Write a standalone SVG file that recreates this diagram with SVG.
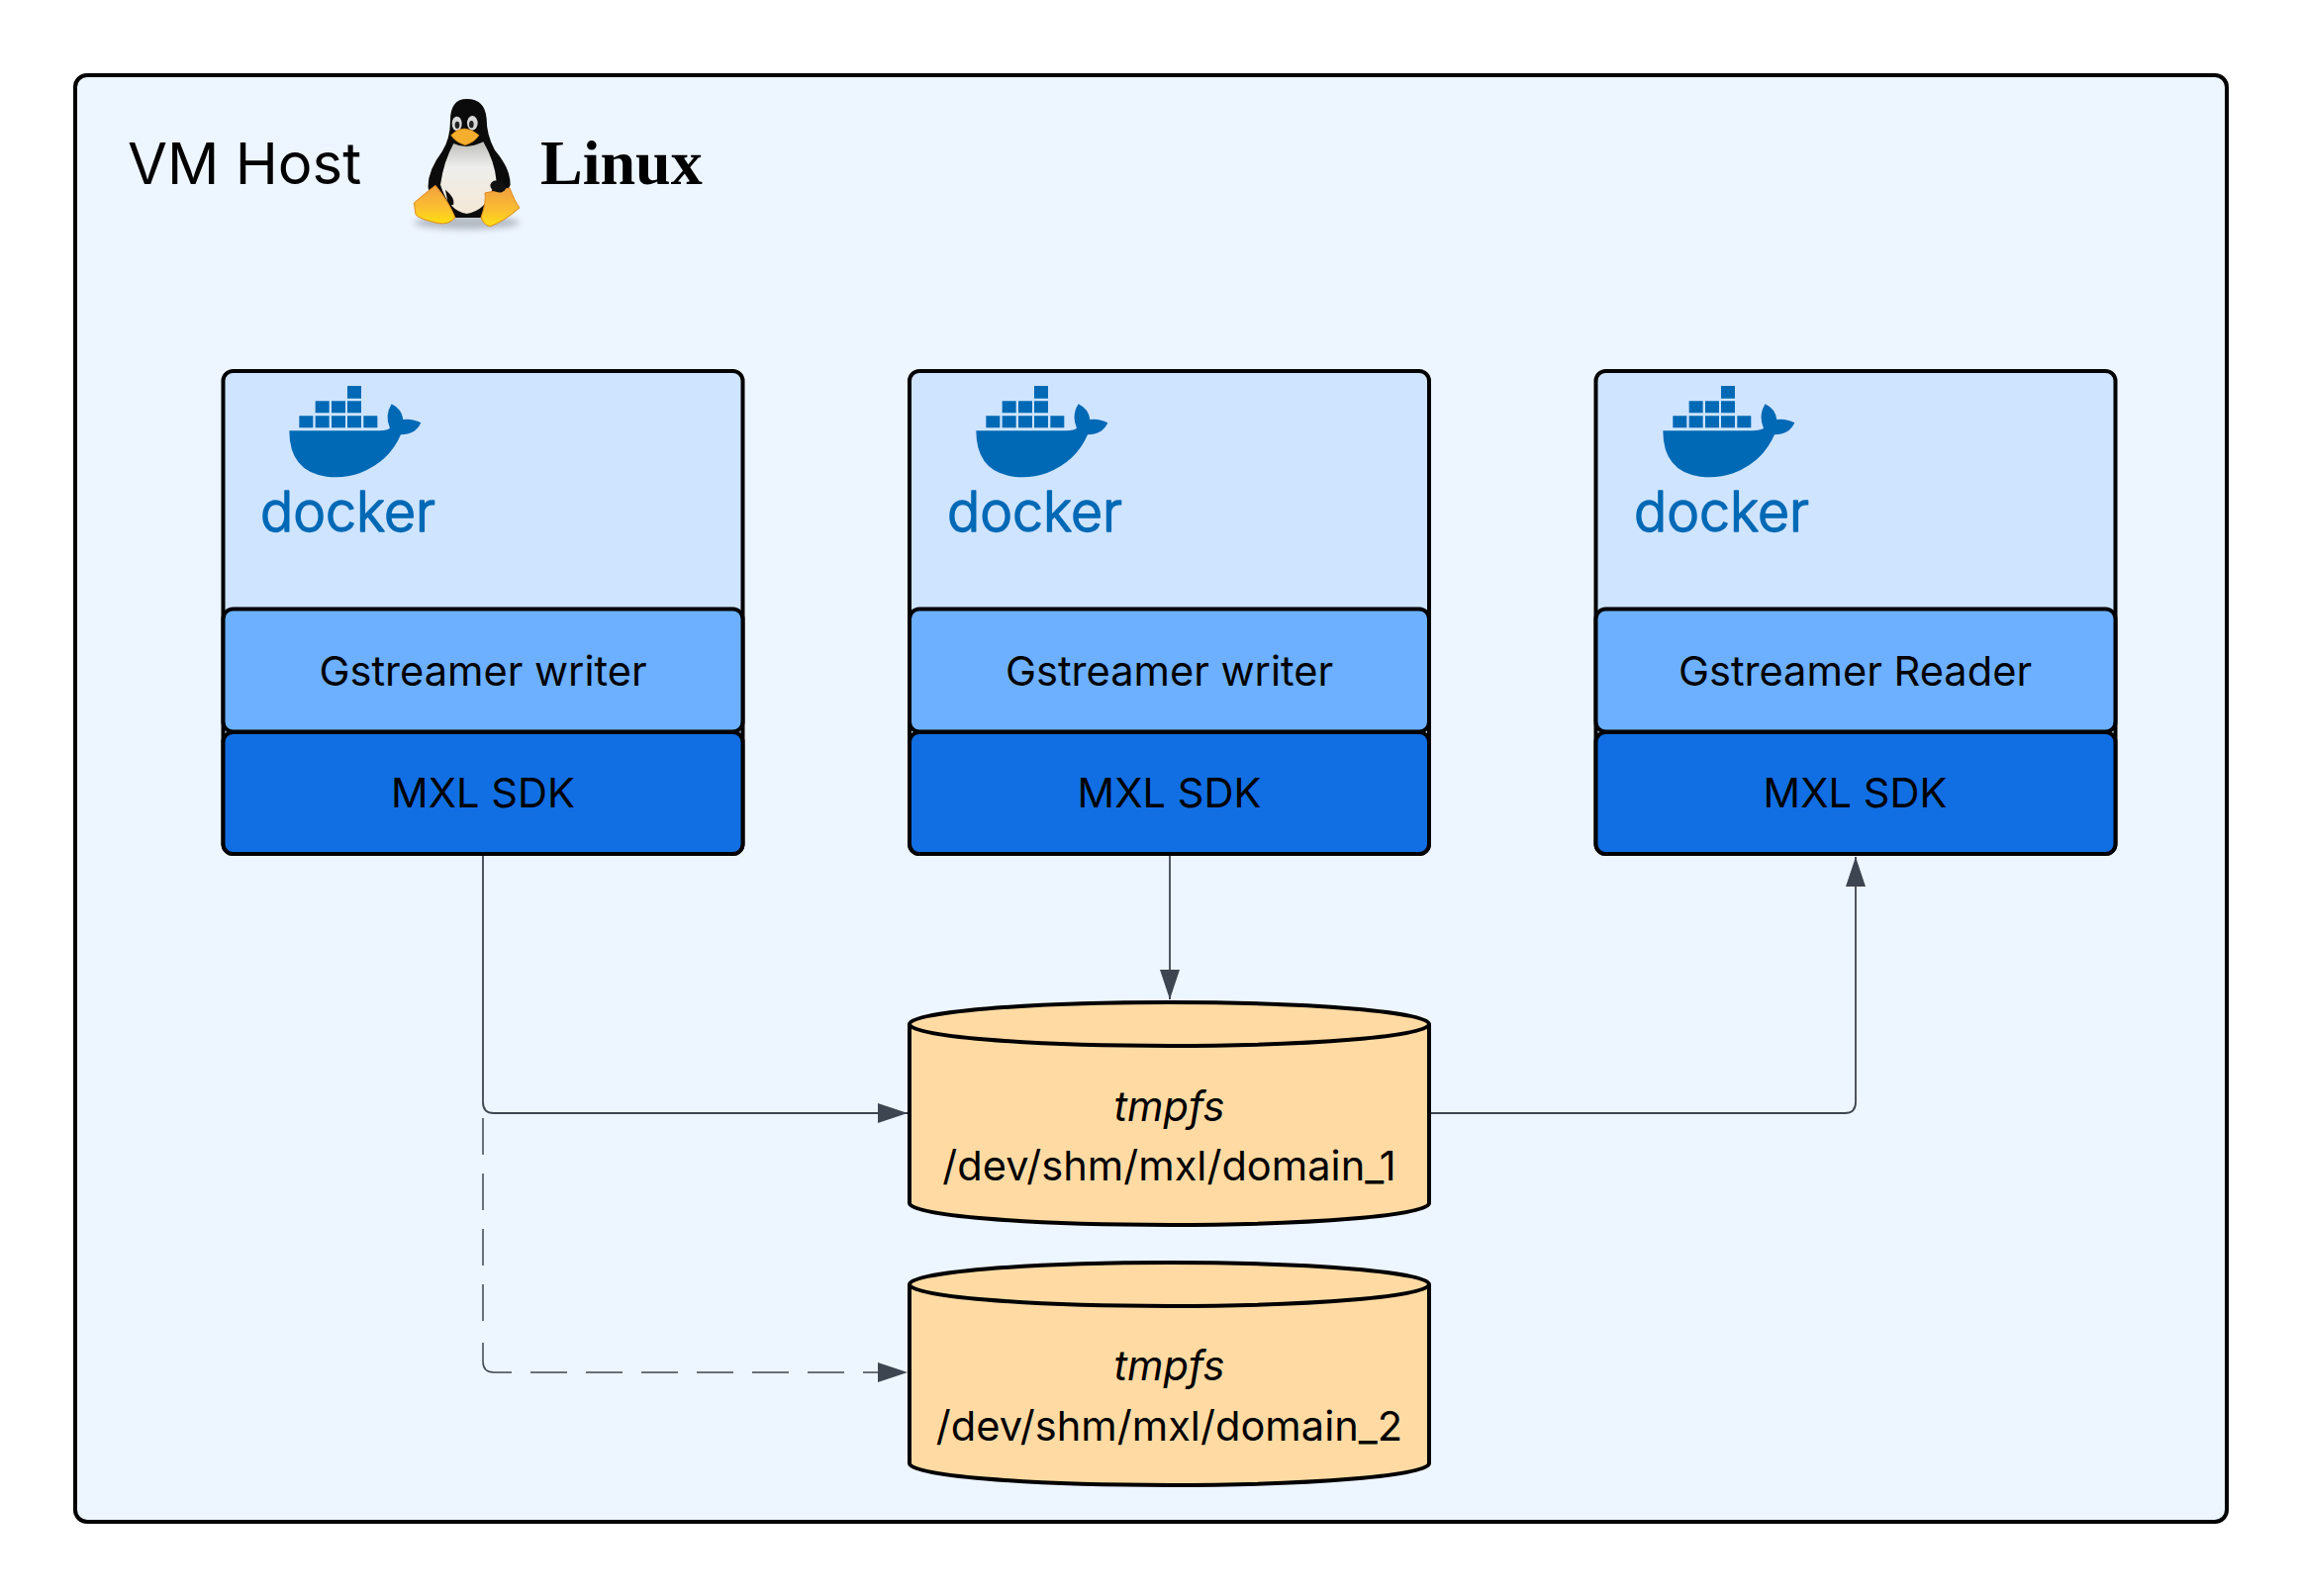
<svg xmlns="http://www.w3.org/2000/svg" width="2325" height="1613" viewBox="0 0 2325 1613">
<style>
text{font-family:"Inter","Liberation Sans",sans-serif;fill:#000}
.t{font-size:41.6px;text-anchor:middle}
.i{font-style:italic}
.box{stroke:#000;stroke-width:4}
.c{fill:#CFE4FF}.g{fill:#6CB0FF}.m{fill:#116FE3}.cy{fill:#FFDBA3;stroke:#000;stroke-width:4}
.dk{font-size:56px;font-weight:300;fill:#0069B5;stroke:#0069B5;stroke-width:1.6;stroke-linejoin:round}
.ln{fill:none;stroke:#3D4551;stroke-width:1.8}
.dl{fill:none;stroke:#3D4551;stroke-width:1.5}
</style>
<defs>
<marker id="a" markerUnits="userSpaceOnUse" markerWidth="30" markerHeight="20" refX="30" refY="10" orient="auto"><path d="M0 0L30 10L0 20Z" fill="#3D4551"/></marker>
<linearGradient id="belly" x1="0" y1="0" x2="0" y2="1"><stop offset="0" stop-color="#bdbdb9"/><stop offset=".35" stop-color="#eeeeec"/><stop offset="1" stop-color="#f4e8d6"/></linearGradient>
<linearGradient id="foot" x1="0" y1="0" x2="0" y2="1"><stop offset="0" stop-color="#F0A040"/><stop offset=".6" stop-color="#FBC030"/><stop offset="1" stop-color="#FFE010"/></linearGradient>
<filter id="soft" x="-20%" y="-100%" width="140%" height="300%"><feGaussianBlur stdDeviation="10"/></filter>
<g id="whale" fill="#0069B5">
<path d="M127 166L400 166Q425 164 432 158Q415 120 437 85Q468 100 472 132Q500 128 526 142Q510 178 465 178Q430 260 340 295Q290 312 240 305Q127 290 127 166Z"/>
<path d="M303 30h42v38h-42zM206 76h42v36h-42zM255 76h42v36h-42zM303 76h42v36h-42zM157 121h42v36h-42zM206 121h42v36h-42zM255 121h42v36h-42zM303 121h42v36h-42zM352 121h42v36h-42z"/>
</g>
</defs>
<g id="vm-host">
<rect class="box" x="76" y="76" width="2174" height="1462" rx="12" fill="#EDF5FF"/>
<text x="129" y="186" font-size="58">VM Host</text>
</g>
<g id="linux">
<g transform="translate(400 80) scale(.3333)">
<ellipse cx="215" cy="435" rx="160" ry="20" fill="#6d737b" opacity=".45" filter="url(#soft)"/>
<path d="M215 60Q165 60 165 125Q165 180 140 220Q95 280 98 330L130 420L300 420L347 320Q347 270 300 215Q275 170 275 120Q270 60 215 60Z" fill="#0b0b0b"/>
<path d="M175 195Q215 215 265 190Q300 250 305 310L290 340Q270 400 215 408Q160 400 135 320Q145 250 175 195Z" fill="url(#belly)"/>
<ellipse cx="185" cy="135" rx="15" ry="22" fill="#d8d8d8"/><ellipse cx="232" cy="133" rx="16" ry="22" fill="#d8d8d8"/>
<ellipse cx="186" cy="139" rx="7" ry="11" fill="#222"/><ellipse cx="229" cy="137" rx="7" ry="11" fill="#222"/>
<path d="M167 170Q205 130 252 170Q240 190 210 200Q180 190 167 170Z" fill="#F5AE2E" stroke="#D98A10" stroke-width="2"/>
<path d="M150 335Q180 360 175 380L160 385Z" fill="#0b0b0b"/>
<path d="M55 375Q90 345 120 322Q160 370 180 420Q160 442 130 437Q70 425 60 410Z" fill="url(#foot)" stroke="#E08A1E" stroke-width="3" stroke-linejoin="round"/>
<path d="M258 420Q275 370 270 345L345 330Q360 370 375 390Q330 430 285 447Q265 440 258 420Z" fill="url(#foot)" stroke="#E08A1E" stroke-width="3" stroke-linejoin="round"/>
<ellipse cx="310" cy="325" rx="24" ry="18" transform="rotate(15 310 325)" fill="#111"/>
</g>
<text x="546" y="186" font-size="64" font-weight="700" style="font-family:'Liberation Serif',serif">Linux</text>
</g>
<g id="connectors">
<path class="ln" marker-end="url(#a)" d="M488 864V1114Q488 1125 499 1125H917"/>
<path class="dl" stroke-dasharray="37 19" d="M488 1130V1350M536 1387H887"/>
<path class="dl" d="M488 1357V1376Q488 1387 499 1387H517"/>
<path d="M887 1377L917 1387L887 1397Z" fill="#3D4551"/>
<path class="ln" marker-end="url(#a)" d="M1182 864V1010"/>
<path class="ln" marker-end="url(#a)" d="M1446 1125H1864Q1875 1125 1875 1114V866"/>
</g>
<g id="container-1">
<rect class="box c" x="225.500" y="375" width="525" height="488" rx="10"/>
<use href="#whale" transform="translate(250 380) scale(.3333)"/>
<text class="dk" x="263" y="537" textLength="177" lengthAdjust="spacingAndGlyphs">docker</text>
</g>
<g id="gstreamer-1">
<rect class="box g" x="225.500" y="615.500" width="525" height="124" rx="10"/>
<text class="t" x="488" y="693">Gstreamer writer</text>
</g>
<g id="mxl-1">
<rect class="box m" x="225.500" y="740" width="525" height="123" rx="10"/>
<text class="t" x="488" y="816">MXL SDK</text>
</g>
<g id="container-2">
<rect class="box c" x="919" y="375" width="525" height="488" rx="10"/>
<use href="#whale" transform="translate(944 380) scale(.3333)"/>
<text class="dk" x="957" y="537" textLength="177" lengthAdjust="spacingAndGlyphs">docker</text>
</g>
<g id="gstreamer-2">
<rect class="box g" x="919" y="615.500" width="525" height="124" rx="10"/>
<text class="t" x="1181.500" y="693">Gstreamer writer</text>
</g>
<g id="mxl-2">
<rect class="box m" x="919" y="740" width="525" height="123" rx="10"/>
<text class="t" x="1181.500" y="816">MXL SDK</text>
</g>
<g id="container-3">
<rect class="box c" x="1612.500" y="375" width="525" height="488" rx="10"/>
<use href="#whale" transform="translate(1638 380) scale(.3333)"/>
<text class="dk" x="1651" y="537" textLength="177" lengthAdjust="spacingAndGlyphs">docker</text>
</g>
<g id="gstreamer-3">
<rect class="box g" x="1612.500" y="615.500" width="525" height="124" rx="10"/>
<text class="t" x="1874.500" y="693">Gstreamer Reader</text>
</g>
<g id="mxl-3">
<rect class="box m" x="1612.500" y="740" width="525" height="123" rx="10"/>
<text class="t" x="1874.500" y="816">MXL SDK</text>
</g>
<g id="tmpfs-1">
<path class="cy" d="M919 1035A262.500 22 0 0 0 1444 1035A262.500 22 0 0 0 919 1035V1216A262.500 22 0 0 0 1444 1216V1035"/>
<text class="t i" x="1181.500" y="1133">tmpfs</text>
<text class="t" x="1181.500" y="1193">/dev/shm/mxl/domain_1</text>
</g>
<g id="tmpfs-2">
<path class="cy" d="M919 1298A262.500 22 0 0 0 1444 1298A262.500 22 0 0 0 919 1298V1479A262.500 22 0 0 0 1444 1479V1298"/>
<text class="t i" x="1181.500" y="1395">tmpfs</text>
<text class="t" x="1181.500" y="1456">/dev/shm/mxl/domain_2</text>
</g>
</svg>
